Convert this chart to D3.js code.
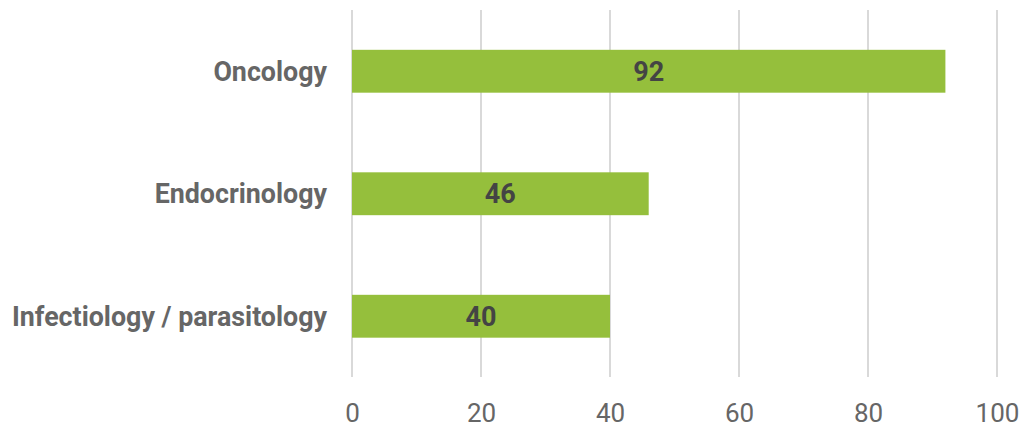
<!DOCTYPE html>
<html><head><meta charset="utf-8">
<script src="https://cdn.jsdelivr.net/npm/d3@7"></script>
<style>body{margin:0;background:#fff}svg{display:block}</style>
</head><body>
<svg id="c" width="1025" height="427"></svg>
<script>
const categories = ["Oncology", "Endocrinology", "Infectiology / parasitology"];
const values = [92, 46, 40];
const tickValues = [0, 20, 40, 60, 80, 100];

const svg = d3.select("#c");
const x = d3.scaleLinear().domain([0, 100]).range([352, 997]);
const y = d3.scaleBand().domain(categories).range([10, 377.5]).paddingInner(0.65).paddingOuter(0.325);

// gridlines
svg.append("g").selectAll("line").data(tickValues).join("line")
  .attr("x1", d => x(d)).attr("x2", d => x(d))
  .attr("y1", 10).attr("y2", 377)
  .attr("stroke", "#d9d9d9").attr("stroke-width", 2);

// x axis
const xa = svg.append("g").attr("transform", "translate(0,377)")
  .call(d3.axisBottom(x).tickValues(tickValues).tickSize(0).tickPadding(0));
xa.select(".domain").remove();
xa.selectAll("text").attr("y", 45).attr("dy", null)
  .attr("fill", "#666").style("font-family", "Roboto").style("font-size", "26px");

// y axis labels
const ya = svg.append("g").attr("transform", "translate(327,0)")
  .call(d3.axisLeft(y).tickSize(0).tickPadding(0));
ya.select(".domain").remove();
ya.selectAll("text").attr("dy", "0.35em")
  .attr("fill", "#666").style("font-family", "Roboto").style("font-weight", "bold").style("font-size", "26.8px");

// bars
svg.append("g").selectAll("rect").data(categories).join("rect")
  .attr("x", x(0)).attr("y", d => y(d))
  .attr("width", (d, i) => x(values[i]) - x(0))
  .attr("height", y.bandwidth())
  .attr("fill", "#95bf3c");

// value labels
svg.append("g").selectAll("text").data(categories).join("text")
  .attr("x", (d, i) => (x(0) + x(values[i])) / 2)
  .attr("y", d => y(d) + y.bandwidth() / 2)
  .attr("dy", "0.35em").attr("text-anchor", "middle")
  .attr("fill", "#444").style("font-family", "Roboto").style("font-weight", "bold").style("font-size", "27px")
  .text((d, i) => values[i]);
</script>
</body></html>
